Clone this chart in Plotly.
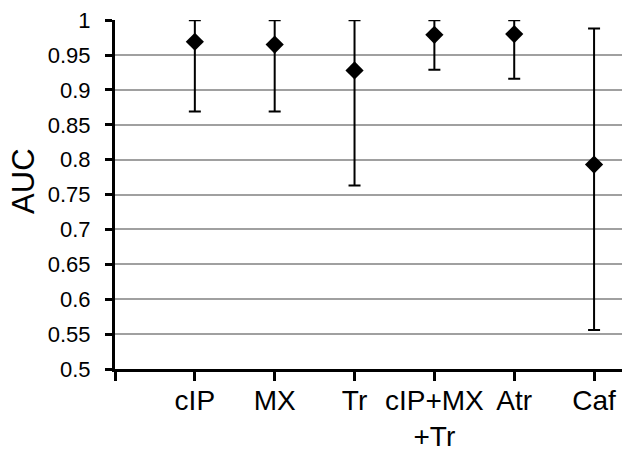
import plotly.graph_objects as go

categories = ["cIP", "MX", "Tr", "cIP+MX<br>+Tr", "Atr", "Caf"]
auc = [0.969, 0.965, 0.928, 0.979, 0.980, 0.793]
upper = [1.0, 1.0, 1.0, 1.0, 1.0, 0.988]
lower = [0.869, 0.869, 0.763, 0.929, 0.916, 0.556]
y_ticks = [0.5, 0.55, 0.6, 0.65, 0.7, 0.75, 0.8, 0.85, 0.9, 0.95, 1.0]
y_tick_labels = ["0.5", "0.55", "0.6", "0.65", "0.7", "0.75", "0.8", "0.85", "0.9", "0.95", "1"]
y_title = "AUC"

xpos = list(range(1, len(categories) + 1))
err_plus = [u - v for u, v in zip(upper, auc)]
err_minus = [v - l for v, l in zip(auc, lower)]

fig = go.Figure()
fig.add_trace(go.Scatter(
    x=xpos, y=auc, mode="markers",
    marker=dict(symbol="diamond", size=14, color="black"),
    error_y=dict(type="data", array=err_plus, arrayminus=err_minus,
                 symmetric=False, color="black", thickness=2, width=6),
    cliponaxis=False, showlegend=False,
))

# the page body has an 8px margin, so the figure is sized/offset to compensate
fig.update_layout(
    width=622, height=442,
    margin=dict(l=107, r=0, t=12, b=81),
    paper_bgcolor="white", plot_bgcolor="white",
    font=dict(family="Liberation Sans, Arial, sans-serif", color="black"),
    xaxis=dict(
        range=[0, 6.45], tickmode="array",
        tickvals=[0] + xpos, ticktext=[""] + categories,
        showgrid=False, zeroline=False, automargin=False,
        showline=True, linecolor="black", linewidth=3,
        ticks="outside", ticklen=9, tickwidth=3, tickcolor="black",
        ticklabelstandoff=-5,
        tickfont=dict(size=28),
    ),
    yaxis=dict(
        range=[0.5, 1.0002], tickmode="array",
        tickvals=y_ticks, ticktext=y_tick_labels,
        showgrid=True, gridcolor="#a0a0a0", gridwidth=2,
        zeroline=False, automargin=False,
        showline=True, linecolor="black", linewidth=3,
        ticks="outside", ticklen=7, tickwidth=3, tickcolor="black",
        ticklabelstandoff=10, ticklabeloverflow="allow",
        tickfont=dict(size=22),
    ),
    annotations=[dict(
        text=y_title, textangle=-90, showarrow=False,
        xref="paper", yref="paper", x=0, y=0.536,
        xanchor="center", yanchor="middle", xshift=-91,
        font=dict(size=31),
    )],
)

fig.write_html("out.html")
